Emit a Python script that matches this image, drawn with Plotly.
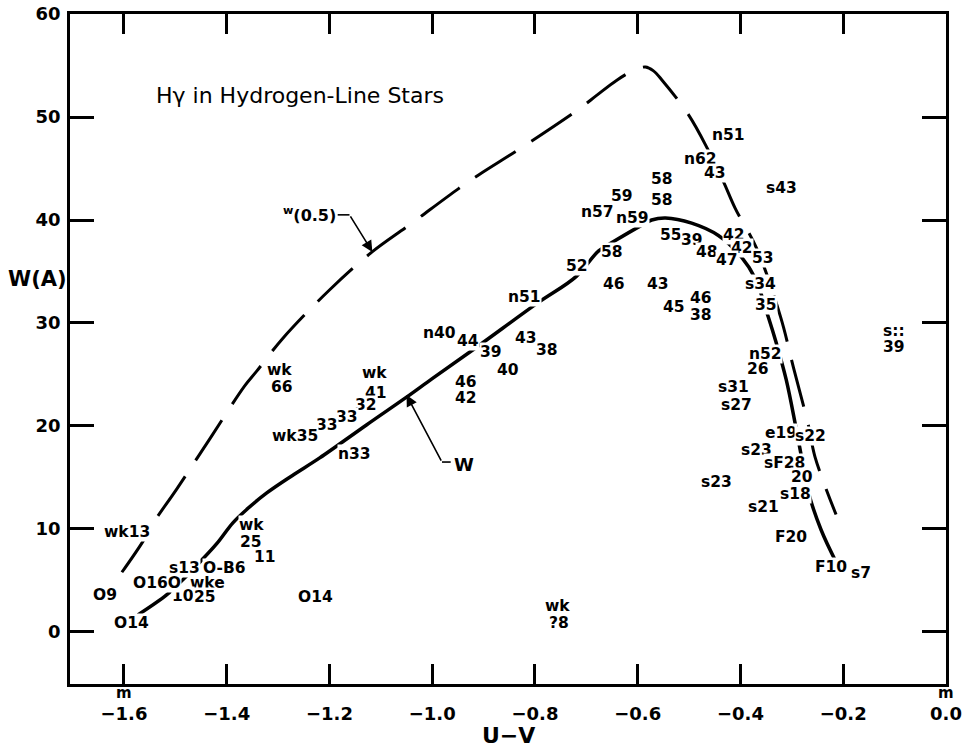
import plotly.graph_objects as go

# ---- data ----
w05_x = [-1.604, -1.563, -1.544, -1.497, -1.431, -1.365, -1.342, -1.291, -1.200, -1.117,
         -1.045, -0.950, -0.909, -0.827, -0.711, -0.680, -0.640, -0.605, -0.585, -0.570,
         -0.553, -0.501, -0.464, -0.433, -0.410, -0.369, -0.322, -0.297, -0.268, -0.255,
         -0.214]
w05_y = [5.8, 8.8, 10.5, 13.9, 18.9, 23.9, 25.3, 28.5, 33.2, 36.9,
         39.5, 43.0, 44.4, 47.0, 50.9, 52.1, 53.6, 54.6, 54.85, 54.5,
         53.6, 50.2, 46.9, 43.7, 41.1, 37.3, 30.6, 25.7, 20.1, 17.0,
         11.4]

w_x = [-1.573, -1.517, -1.487, -1.452, -1.419, -1.388, -1.361, -1.322, -1.272, -1.219,
       -1.128, -1.050, -1.000, -0.915, -0.796, -0.720, -0.676, -0.647, -0.592, -0.573,
       -0.546, -0.495, -0.443, -0.398, -0.371, -0.346, -0.330, -0.311, -0.293, -0.282,
       -0.268, -0.243, -0.214]
w_y = [1.65, 3.6, 5.0, 6.8, 8.6, 10.6, 11.9, 13.5, 15.2, 16.9,
       20.1, 22.8, 24.6, 27.6, 31.9, 34.5, 37.0, 37.9, 39.5, 40.0,
       40.2, 39.7, 38.5, 36.4, 34.3, 30.6, 28.0, 24.5, 20.1, 17.2,
       13.6, 9.9, 6.8]

label_text = ["n51", "n62", "43", "s43", "58", "58", "59", "n57", "n59", "55",
              "39", "48", "42", "42", "47", "53", "s34", "35", "58", "52",
              "46", "43", "45", "46", "38", "n51", "n52", "26", "s31", "s27",
              "e19", "s22", "s23", "sF28", "20", "s18", "s21", "F20", "F10", "s7",
              "s23", "s::", "39", "wk13", "O9", "O14", "s13", "O-B6", "wke", "10",
              "25", "O16O", "wk", "25", "11", "O14", "wk", "66", "wk", "41",
              "32", "33", "33", "wk35", "n33", "n40", "44", "39", "40", "46",
              "42", "43", "38", "wk", "?8"]
label_x = [-0.423, -0.478, -0.4505, -0.320, -0.553, -0.552, -0.631, -0.678, -0.610, -0.536,
           -0.495, -0.466, -0.413, -0.398, -0.427, -0.357, -0.361, -0.350, -0.650, -0.718,
           -0.647, -0.561, -0.530, -0.476, -0.476, -0.821, -0.352, -0.365, -0.414, -0.408,
           -0.322, -0.264, -0.369, -0.315, -0.280, -0.293, -0.355, -0.301, -0.223, -0.165,
           -0.447, -0.101, -0.101, -1.594, -1.637, -1.586, -1.482, -1.404, -1.437, -1.485,
           -1.443, -1.536, -1.352, -1.353, -1.326, -1.227, -1.297, -1.293, -1.113, -1.109,
           -1.128, -1.165, -1.204, -1.268, -1.152, -0.986, -0.930, -0.885, -0.852, -0.934,
           -0.934, -0.8175, -0.777, -0.757, -0.753]
label_y = [48.3, 45.9, 44.6, 43.1, 44.0, 41.9, 42.3, 40.8, 40.2, 38.5,
           38.1, 36.9, 38.5, 37.3, 36.1, 36.3, 33.8, 31.7, 36.9, 35.5,
           33.8, 33.8, 31.6, 32.4, 30.8, 32.5, 27.0, 25.5, 23.8, 22.0,
           19.3, 19.0, 17.7, 16.4, 15.0, 13.4, 12.1, 9.2, 6.3, 5.7,
           14.6, 29.2, 27.7, 9.7, 3.6, 0.9, 6.2, 6.2, 4.8, 3.5,
           3.4, 4.8, 10.4, 8.7, 7.3, 3.4, 25.4, 23.8, 25.1, 23.2,
           22.0, 20.9, 20.1, 19.0, 17.3, 29.0, 28.3, 27.2, 25.4, 24.3,
           22.7, 28.5, 27.4, 2.5, 0.9]

x_ticks = [-1.6, -1.4, -1.2, -1.0, -0.8, -0.6, -0.4, -0.2, 0.0]
x_ticktext = ["\u22121.6", "\u22121.4", "\u22121.2", "\u22121.0", "\u22120.8",
              "\u22120.6", "\u22120.4", "\u22120.2", "0.0"]
y_ticks = [0, 10, 20, 30, 40, 50, 60]

FONT = "DejaVu Sans"

fig = go.Figure()
fig.add_trace(go.Scatter(x=w05_x, y=w05_y, mode="lines", line_shape="spline",
                         line=dict(color="black", width=3, dash="48px,19px"),
                         hoverinfo="skip", showlegend=False))
fig.add_trace(go.Scatter(x=w_x, y=w_y, mode="lines", line_shape="spline",
                         line=dict(color="black", width=3.5),
                         hoverinfo="skip", showlegend=False))

annotations = []
for t, x, y in zip(label_text, label_x, label_y):
    annotations.append(dict(x=x, y=y, xref="x", yref="y", text=t, showarrow=False,
                            xanchor="center", yanchor="middle",
                            font=dict(family=FONT, size=15.5, color="black", weight="bold"),
                            bgcolor="white", borderpad=0))

# title
annotations.append(dict(x=-1.258, y=52.1, xref="x", yref="y",
                        xanchor="center", yanchor="middle",
                        text="H\u03b3 in Hydrogen-Line Stars", showarrow=False,
                        font=dict(family=FONT, size=22, color="black")))
# W(0.5) label and arrow
annotations.append(dict(x=-1.184, y=40.5, xref="x", yref="y", xanchor="right",
                        yanchor="middle",
                        text="<sup>w</sup>(0.5)", showarrow=False,
                        font=dict(family=FONT, size=16, color="black", weight="bold")))
annotations.append(dict(x=-1.1165, y=36.9, ax=-1.161, ay=40.5, xref="x", yref="y",
                        axref="x", ayref="y", text="", showarrow=True,
                        arrowhead=2, arrowsize=1.4, arrowwidth=1.6, arrowcolor="black"))
# W label and arrow
annotations.append(dict(x=-0.962, y=16.3, xref="x", yref="y", xanchor="left",
                        yanchor="middle",
                        text="W", showarrow=False,
                        font=dict(family=FONT, size=18, color="black", weight="bold")))
annotations.append(dict(x=-1.050, y=23.0, ax=-0.981, ay=16.5, xref="x", yref="y",
                        axref="x", ayref="y", text="", showarrow=True,
                        arrowhead=2, arrowsize=1.4, arrowwidth=1.6, arrowcolor="black"))
# axis titles (pixel positions converted to paper below)
annotations.append(dict(x=37, y=279, xref="paper", yref="paper", text="W(A)",
                        xanchor="center", yanchor="middle", showarrow=False,
                        font=dict(family=FONT, size=21, color="black", weight="bold")))
annotations.append(dict(x=508, y=735, xref="paper", yref="paper", text="U\u2212V",
                        xanchor="center", yanchor="middle", showarrow=False,
                        font=dict(family=FONT, size=22, color="black", weight="bold")))
# "m" unit marks
for xv in (x_ticks[0], x_ticks[-1]):
    annotations.append(dict(x=xv, y=693, xref="x", yref="paper", text="m",
                            xanchor="center", yanchor="middle", showarrow=False,
                            font=dict(family=FONT, size=15, color="black", weight="bold")))

L, R, T, B = 70, 16, 14, 64
W, H = 962, 748
pw, ph = W - L - R, H - T - B
for a in annotations:
    if a.get("yref") == "paper":
        a["y"] = (H - B - a["y"]) / ph
    if a.get("xref") == "paper":
        a["x"] = (a["x"] - L) / pw

shapes = [
    dict(type="line", xref="x", yref="y", x0=-1.184, y0=40.5, x1=-1.161, y1=40.5,
         line=dict(color="black", width=1.6)),
    dict(type="line", xref="x", yref="y", x0=-0.964, y0=16.5, x1=-0.981, y1=16.5,
         line=dict(color="black", width=1.6)),
]

tick_font = dict(family=FONT, size=18, color="black", weight="bold")
fig.update_layout(
    width=W, height=H, margin=dict(l=L, r=R, t=T, b=B, autoexpand=False),
    paper_bgcolor="white", plot_bgcolor="white",
    annotations=annotations, shapes=shapes, showlegend=False,
    xaxis=dict(range=[-1.705, 0.0], tickvals=x_ticks, ticktext=x_ticktext,
               ticks="inside", ticklen=20, tickwidth=2.5, tickcolor="black",
               showline=True, linecolor="black", linewidth=2.5, mirror="ticks",
               showgrid=False, zeroline=False, ticklabelstandoff=12,
               automargin=False, tickfont=tick_font),
    yaxis=dict(range=[-5.05, 60], tickvals=y_ticks,
               ticks="inside", ticklen=24, tickwidth=2.5, tickcolor="black",
               showline=True, linecolor="black", linewidth=2.5, mirror="ticks",
               showgrid=False, zeroline=False, ticklabelstandoff=3,
               automargin=False, tickfont=tick_font),
)

fig.write_html("out.html", config={"displayModeBar": False},
               post_script="document.body.style.margin='0px';")
